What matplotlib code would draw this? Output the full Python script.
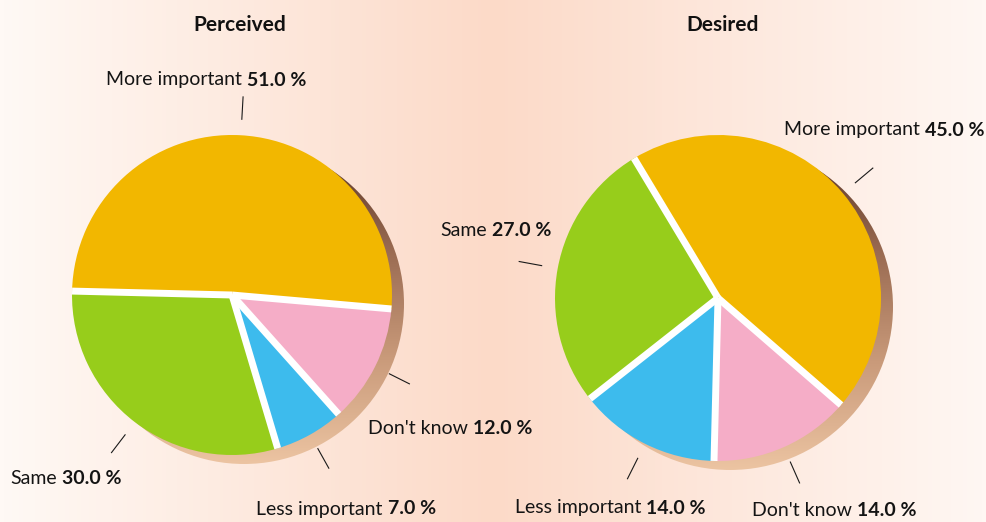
import numpy as np
import matplotlib
matplotlib.use('Agg')
import matplotlib.pyplot as plt
from matplotlib.patches import Circle
from matplotlib.colors import LinearSegmentedColormap

plt.rcParams['font.family'] = ['Lato', 'DejaVu Sans']

categories = ["More important", "Same", "Less important", "Don't know"]
perceived = [51.0, 30.0, 7.0, 12.0]
desired = [45.0, 27.0, 14.0, 14.0]
colors = ['#f2b700', '#97cd1b', '#3dbbed', '#f5adc7']

W, H = 986, 522
fig = plt.figure(figsize=(W / 100, H / 100), dpi=100)
ax = fig.add_axes([0, 0, 1, 1])

# soft cream -> peach -> cream backdrop
bg = LinearSegmentedColormap.from_list('bg', ['#fff9f5', '#fcdac8', '#fff7f3'])
ax.imshow(np.linspace(0, 1, 256)[None, :], extent=[0, W, 0, H], cmap=bg,
          aspect='auto', zorder=0)

# shadow: dark brown at the top fading to light tan at the bottom
shade = LinearSegmentedColormap.from_list('shade', ['#ecc4a2', '#c99a7a', '#9a6b52', '#5a3524'])

FS = 14


def mixed_label(x, y, name, value):
    rend = fig.canvas.get_renderer()
    t1 = ax.text(0, 0, name, fontsize=FS, color='#141414', va='center', zorder=5)
    t2 = ax.text(0, 0, f'{value:.1f} %', fontsize=FS, fontweight='bold',
                 color='#141414', va='center', zorder=5)
    w1 = t1.get_window_extent(rend).width
    w2 = t2.get_window_extent(rend).width
    gap = FS * 0.35
    x0 = x - (w1 + gap + w2) / 2
    t1.set_position((x0, y))
    t2.set_position((x0 + w1 + gap, y))


def draw_pie(cx, cy, r, values, start, title, title_x, label_xy):
    # drop shadow
    sx, sy = cx + 12, cy - 9
    circ = Circle((sx, sy), r, facecolor='none', edgecolor='none')
    ax.add_patch(circ)
    im = ax.imshow(np.linspace(0, 1, 256)[:, None], extent=[sx - r, sx + r, sy - r, sy + r],
                   origin='lower', cmap=shade, aspect='auto', zorder=1)
    im.set_clip_path(circ)

    wedges, _ = ax.pie(values, colors=colors, startangle=start, center=(cx, cy),
                       radius=r, counterclock=True,
                       wedgeprops=dict(linewidth=0, zorder=2))

    # white cuts between slices
    for w in wedges:
        a = np.deg2rad(w.theta1)
        ax.plot([cx, cx + r * np.cos(a)], [cy, cy + r * np.sin(a)],
                color='white', lw=5, solid_capstyle='butt', zorder=3)

    # leader lines + labels
    for w, name, v, (lx, ly) in zip(wedges, categories, values, label_xy):
        a = np.deg2rad((w.theta1 + w.theta2) / 2)
        ax.plot([cx + 1.1 * r * np.cos(a), cx + 1.24 * r * np.cos(a)],
                [cy + 1.1 * r * np.sin(a), cy + 1.24 * r * np.sin(a)],
                color='#1a1a1a', lw=0.8, zorder=4)
        mixed_label(lx, H - ly, name, v)

    ax.text(title_x, H - 25, title, fontsize=15, fontweight='bold',
            ha='center', va='center', color='#111111', zorder=5)


draw_pie(232, H - 295, 160, perceived, -5, 'Perceived', 240,
         [(206, 80), (66, 478), (346, 509), (450, 428)])
draw_pie(718, H - 298, 163, desired, -41, 'Desired', 723,
         [(884, 130), (496, 230), (610, 508), (834, 510)])

ax.set_xlim(0, W)
ax.set_ylim(0, H)
ax.set_aspect('auto')
ax.axis('off')

fig.savefig('out.png', dpi=100)
